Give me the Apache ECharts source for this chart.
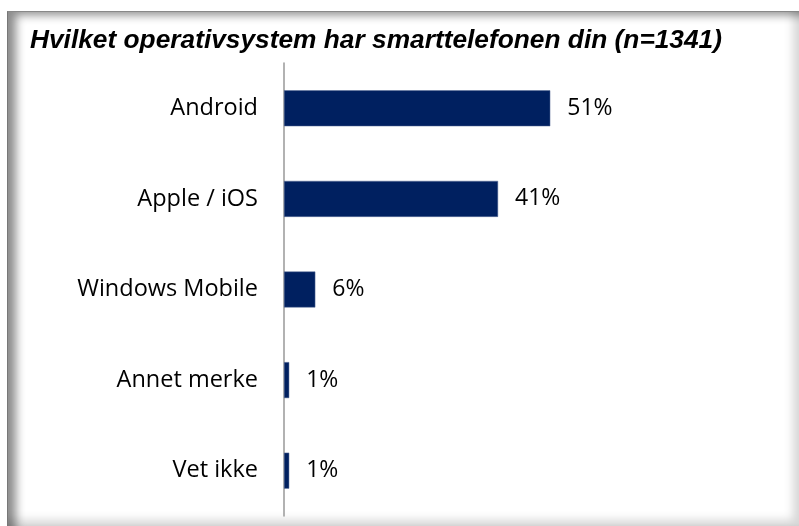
<!DOCTYPE html>
<html>
<head>
<meta charset="utf-8">
<script src="https://cdn.jsdelivr.net/npm/echarts@6/dist/echarts.min.js"></script>
<style>
html,body{margin:0;padding:0;background:#fff;}
#wrap{position:relative;width:799px;height:526px;overflow:hidden;}
#frame{position:absolute;left:7px;top:11px;width:791px;height:514px;border-left:1px solid #777;border-top:1px solid #888;
 box-shadow: inset 10px 5px 10px -2px rgba(0,0,0,0.45), inset -9px -9px 10px -3px rgba(0,0,0,0.16);}
#chart{position:absolute;left:0;top:0;width:799px;height:526px;}
</style>
</head>
<body>
<div id="wrap">
<div id="frame"></div>
<div id="chart"></div>
</div>
<script>
const titleText = 'Hvilket operativsystem har smarttelefonen din (n=1341)';
const categories = ['Android', 'Apple / iOS', 'Windows Mobile', 'Annet merke', 'Vet ikke'];
const values = [51, 41, 6, 1, 1];

const chart = echarts.init(document.getElementById('chart'));
chart.setOption({
  backgroundColor: 'transparent',
  animation: false,
  title: {
    text: titleText,
    left: 25,
    top: 23,
    textStyle: {
      fontFamily: 'Liberation Sans',
      fontStyle: 'italic',
      fontWeight: 'bold',
      fontSize: 26.3,
      color: '#000'
    }
  },
  grid: { left: 284, right: 19, top: 63, bottom: 10, containLabel: false },
  xAxis: {
    type: 'value',
    min: 0,
    max: 95,
    show: false
  },
  yAxis: {
    type: 'category',
    data: categories,
    inverse: true,
    axisLine: { show: true, lineStyle: { color: '#999', width: 1.5 } },
    axisTick: { show: false },
    axisLabel: {
      margin: 26,
      fontFamily: 'Open Sans',
      fontSize: 23.5,
      color: '#000'
    }
  },
  series: [{
    type: 'bar',
    data: values,
    barWidth: 36,
    itemStyle: { color: '#002060', borderColor: '#5a6f99', borderWidth: 0.5 },
    label: {
      show: true,
      position: 'right',
      distance: 17,
      formatter: p => p.value + '%',
      fontFamily: 'Open Sans',
      fontSize: 23,
      color: '#000'
    }
  }]
});
</script>
</body>
</html>
